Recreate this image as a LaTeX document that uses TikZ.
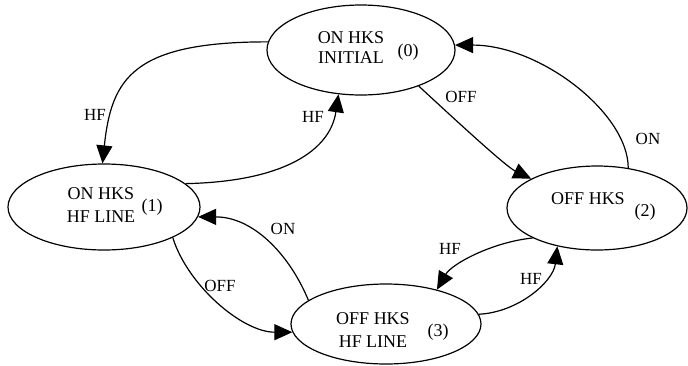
\documentclass[tikz,border=0pt]{standalone}
\usepackage{fontspec}
\setmainfont{Liberation Serif}
\usetikzlibrary{arrows.meta,shapes.geometric}
\begin{document}
\begin{tikzpicture}[x=1pt,y=-1pt,
  st/.style={draw,ellipse,line width=1.2pt,inner sep=0pt},
  conn/.style={line width=1.2pt,-{Triangle[length=18pt,width=16pt]}},
  txt/.style={inner sep=0pt,align=center,font=\fontsize{18}{#1}\selectfont},
  num/.style={inner sep=0pt,font=\fontsize{18}{20}\selectfont},
  lab/.style={inner sep=0pt,font=\fontsize{17}{17}\selectfont}]
\useasboundingbox (0,0) rectangle (688,365);
% states
\node[st,minimum width=188pt,minimum height=90pt] (e0) at (361,50) {};
\node[st,minimum width=192pt,minimum height=86pt] (e1) at (104,207) {};
\node[st,minimum width=180pt,minimum height=84pt] (e2) at (597,208) {};
\node[st,minimum width=190pt,minimum height=80pt] (e3) at (386,324) {};
% state texts
\node[txt=20] (t0) at (351,48) {ON HKS\\INITIAL};
\node[num] (n0) at (408,52) {(0)};
\node[txt=23] (t1) at (101,205.5) {ON HKS\\HF LINE};
\node[num] (n1) at (152,207) {(1)};
\node[txt=20] (t2) at (588,199) {OFF HKS};
\node[num] (n2) at (645,212) {(2)};
\node[txt=23] (t3) at (373,330) {OFF HKS\\HF LINE};
\node[num] (n3) at (438,332) {(3)};
% transitions
\draw[conn] (e0.175) .. controls +(-135,0) and +(9,-85) .. (e1.92);
\draw[conn] (e1.16) .. controls +(100,-2) and +(-8,55) .. (e0.243);
\draw[conn] (e0.-32) .. controls +(40,37) and +(-25,-12) .. (e2.156);
\draw[conn] (e2.52) .. controls +(0,-55) and +(85,0) .. (e0.3);
\draw[conn] (e1.-24) .. controls +(15,48) and +(-50,0) .. (e3.185);
\draw[conn] (e3.163) .. controls +(-19,-46) and +(55,0) .. (e1.-6);
\draw[conn] (e2.205) .. controls +(-40,4) and +(15,-26) .. (e3.34);
\draw[conn] (e3.6) .. controls +(40,-2) and +(-4,35) .. (e2.224);
% labels
\node[lab] (l01) at (95,115) {HF};
\node[lab] (l10) at (313,117) {HF};
\node[lab] (l02) at (461,97) {OFF};
\node[lab] (l20) at (648,139) {ON};
\node[lab] (l31) at (283,229) {ON};
\node[lab] (l13) at (220,286) {OFF};
\node[lab] (l23) at (450,249) {HF};
\node[lab] (l32) at (531,279) {HF};
\end{tikzpicture}
\end{document}
